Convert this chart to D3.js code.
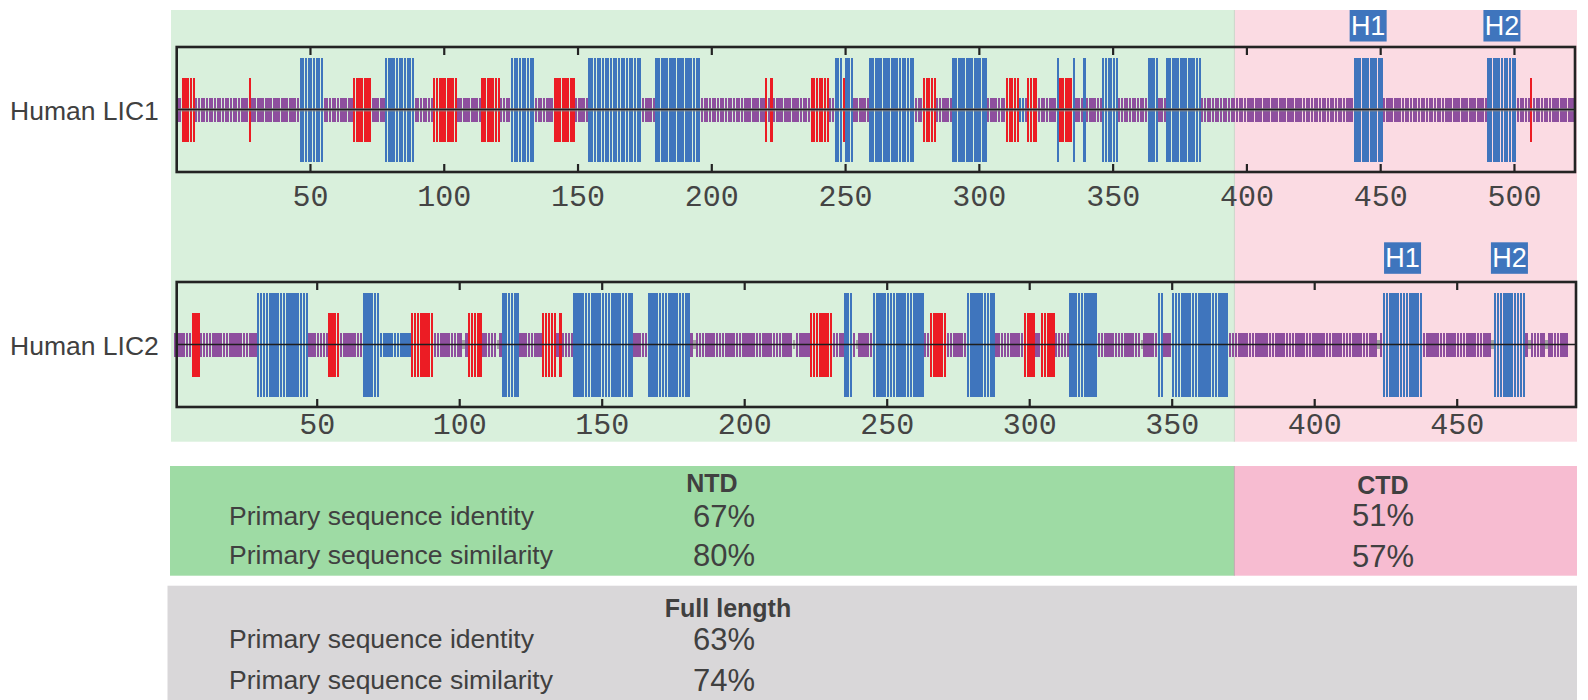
<!DOCTYPE html>
<html lang="en">
<head>
<meta charset="utf-8">
<title>Human LIC1 / LIC2 secondary structure</title>
<script src="https://cdnjs.cloudflare.com/ajax/libs/d3/7.8.5/d3.min.js"></script>
<style>
  body { margin: 0; background: #fff; }
  svg { display: block; font-family: "Liberation Sans", Arial, sans-serif; }
</style>
</head>
<body>
<div id="chart"></div>
<script>
// residue ranges [from, to]; anything not listed is coil
const lic1Length = 523;
const lic1Helix = [[47,55],[79,89],[126,134],[155,174],[180,196],[247,253],[260,276],[291,303],
                   [330,330],[336,336],[340,340],[347,352],[364,367],[371,383],[441,451],[491,501]];
const lic1Strand = [[3,7],[28,28],[67,73],[97,105],[115,121],[142,149],[221,221],[223,223],
                    [238,244],[250,250],[280,284],[311,315],[319,322],[331,335],[507,507]];
const lic1WeakHelix = [[316,317]];
const lic1Grey = [];
const lic1Blank = [];
const lic1Tags = [["H1",441,451],["H2",491,501]];

const lic2Length = 492;
const lic2Helix = [[30,47],[67,72],[116,121],[141,161],[167,181],[236,238],[246,263],[279,288],
                   [315,324],[346,347],[351,370],[425,438],[464,474]];
const lic2Strand = [[7,9],[55,58],[84,91],[104,108],[130,134],[136,136],[224,231],[266,271],
                    [299,302],[305,309]];
const lic2WeakHelix = [[73,83]];
const lic2Grey = [102,114,183,218,240,340,423,463,476,482];
const lic2Blank = [[490,492]];
const lic2Tags = [["H1",425,438],["H2",464,474]];

const tickStep = 50;
const ntdEnd = 395.5;   // NTD / CTD split, LIC1 numbering

const statLabels = ["Primary sequence identity", "Primary sequence similarity"];
const ntdValues = [67, 80];
const ctdValues = [51, 57];
const fullValues = [63, 74];

const W = 1588, H = 700;
const colors = { H: "#3f75bd", E: "#ec1c24", C: "#8e4f9e", L: "#3f75bd", G: "#a3a3a3" };
const halfH = { H: 52, E: 32, C: 12, L: 12, G: 4.5 };
const textCol = "#404040";

const rows = [
  { name: "Human LIC1", len: lic1Length, helix: lic1Helix, strand: lic1Strand, weak: lic1WeakHelix,
    grey: lic1Grey, blank: lic1Blank, tags: lic1Tags, top: 47, range: [176.2, 1575.5],
    box: [176.7, 1575], tagTop: 10, tickY: 206, guide: true },
  { name: "Human LIC2", len: lic2Length, helix: lic2Helix, strand: lic2Strand, weak: lic2WeakHelix,
    grey: lic2Grey, blank: lic2Blank, tags: lic2Tags, top: 282, range: [174.2, 1576.4],
    box: [176.7, 1576], tagTop: 242.3, tickY: 434, guide: false }
];
const boxH = 125;

// per residue structure code from the range lists
function residues(r) {
  const t = d3.range(r.len + 1).map(() => "C");
  t[0] = null;
  r.helix.forEach(([a, b]) => { for (let i = a; i <= b; i++) t[i] = "H"; });
  r.weak.forEach(([a, b]) => { for (let i = a; i <= b; i++) t[i] = "L"; });
  r.strand.forEach(([a, b]) => { for (let i = a; i <= b; i++) t[i] = "E"; });
  r.grey.forEach(i => { t[i] = "G"; });
  r.blank.forEach(([a, b]) => { for (let i = a; i <= b; i++) t[i] = null; });
  return t.map((type, i) => ({ i, type })).filter(d => d.type);
}

const svg = d3.select("#chart").append("svg").attr("width", W).attr("height", H);

const x1 = d3.scaleLinear().domain([0, lic1Length]).range(rows[0].range);
const splitX = x1(ntdEnd);

// backgrounds
svg.append("rect").attr("x", 171).attr("y", 10).attr("width", splitX - 171).attr("height", 431.7).attr("fill", "#d9f0dc");
svg.append("rect").attr("x", splitX).attr("y", 10).attr("width", 1577 - splitX).attr("height", 431.7).attr("fill", "#fbdbe3");
svg.append("line").attr("x1", splitX).attr("x2", splitX).attr("y1", 10).attr("y2", 441.7)
  .attr("stroke", "#c9d6c9").attr("stroke-width", 1);

rows.forEach(r => {
  const x = d3.scaleLinear().domain([0, r.len]).range(r.range);
  const cy = r.top + boxH / 2;
  const g = svg.append("g");
  const step = x(1) - x(0);

  g.append("text").attr("x", 10).attr("y", cy + 10).attr("font-size", 26.5).attr("fill", textCol).text(r.name);

  g.selectAll(".res").data(residues(r)).enter().append("rect")
    .attr("class", "res")
    .attr("x", d => x(d.i - 1) + 0.25)
    .attr("width", step - 0.5)
    .attr("y", d => cy - halfH[d.type])
    .attr("height", d => 2 * halfH[d.type])
    .attr("fill", d => colors[d.type])
    .attr("shape-rendering", "crispEdges");

  if (r.guide) {
    g.append("line").attr("x1", r.box[0]).attr("x2", r.box[1]).attr("y1", cy + 0.3).attr("y2", cy + 0.3)
      .attr("stroke", "#8a8a8a").attr("stroke-opacity", 0.7).attr("stroke-width", 3.4);
  }
  g.append("line").attr("x1", r.box[0]).attr("x2", r.box[1]).attr("y1", cy).attr("y2", cy)
    .attr("stroke", "#1e1e1e").attr("stroke-width", 1.6);

  g.append("rect").attr("x", r.box[0]).attr("y", r.top).attr("width", r.box[1] - r.box[0]).attr("height", boxH)
    .attr("fill", "none").attr("stroke", "#232323").attr("stroke-width", 2.6);

  const ticks = d3.range(tickStep, r.len, tickStep);
  const topAxis = d3.axisTop(x).tickValues(ticks).tickSize(-8).tickFormat("");
  const botAxis = d3.axisBottom(x).tickValues(ticks).tickSize(-8).tickFormat(d3.format("d"));
  const ta = g.append("g").attr("transform", `translate(0,${r.top})`).call(topAxis);
  const ba = g.append("g").attr("transform", `translate(0,${r.top + boxH})`).call(botAxis);
  [ta, ba].forEach(a => {
    a.select(".domain").remove();
    a.selectAll(".tick line").attr("stroke", "#232323").attr("stroke-width", 2.2);
  });
  ba.selectAll(".tick text")
    .attr("y", r.tickY - r.top - boxH).attr("dy", 0)
    .attr("font-family", "'Liberation Mono', 'DejaVu Sans Mono', monospace")
    .attr("font-size", 30).attr("fill", "#444");

  // helix tags above the box
  const tg = g.selectAll(".tag").data(r.tags).enter().append("g").attr("class", "tag");
  tg.append("rect")
    .attr("x", d => x((d[1] + d[2]) / 2 - 0.5) - 18.5).attr("y", r.tagTop)
    .attr("width", 37).attr("height", 31.5).attr("fill", colors.H);
  tg.append("text")
    .attr("x", d => x((d[1] + d[2]) / 2 - 0.5)).attr("y", r.tagTop + 25)
    .attr("text-anchor", "middle").attr("font-size", 27).attr("fill", "#fff")
    .text(d => d[0]);
});

// identity / similarity panels
svg.append("rect").attr("x", 170).attr("y", 466).attr("width", splitX - 170).attr("height", 109.7).attr("fill", "#9edba4");
svg.append("rect").attr("x", splitX).attr("y", 466).attr("width", 1577 - splitX).attr("height", 109.7).attr("fill", "#f7bcd1");
svg.append("line").attr("x1", splitX).attr("x2", splitX).attr("y1", 466).attr("y2", 575.7)
  .attr("stroke", "#c0a8b0").attr("stroke-width", 1);
svg.append("rect").attr("x", 167.5).attr("y", 585.7).attr("width", 1577 - 167.5).attr("height", 114.3).attr("fill", "#d9d7d9");

const panels = [
  { title: "NTD", cx: 724, titleX: 712, titleY: 492, valueY: [527, 566], values: ntdValues, labels: true },
  { title: "CTD", cx: 1383, titleX: 1383, titleY: 494, valueY: [526, 567], values: ctdValues, labels: false },
  { title: "Full length", cx: 724, titleX: 728, titleY: 617, valueY: [650, 691], values: fullValues, labels: true }
];
panels.forEach(p => {
  svg.append("text").attr("x", p.titleX).attr("y", p.titleY).attr("text-anchor", "middle")
    .attr("font-size", 25).attr("font-weight", "bold").attr("fill", textCol).text(p.title);
  p.values.forEach((v, i) => {
    svg.append("text").attr("x", p.cx).attr("y", p.valueY[i]).attr("text-anchor", "middle")
      .attr("font-size", 31).attr("fill", textCol).text(v + "%");
    if (p.labels) {
      svg.append("text").attr("x", 229).attr("y", p.valueY[i] - 2)
        .attr("font-size", 26.5).attr("fill", textCol).text(statLabels[i]);
    }
  });
});
</script>
</body>
</html>
